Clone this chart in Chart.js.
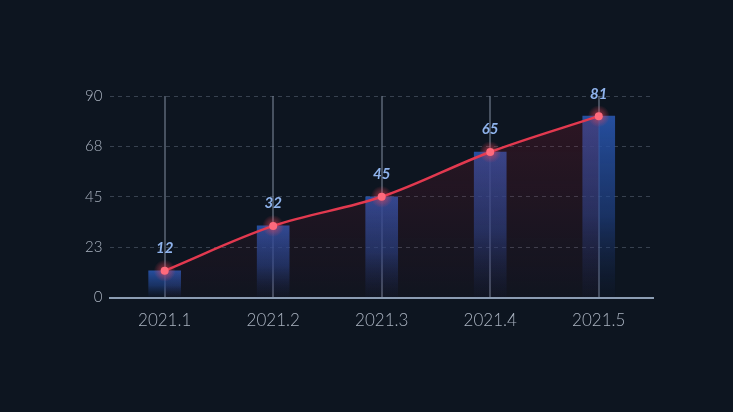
<!DOCTYPE html>
<html>
<head>
<meta charset="utf-8">
<script src="https://cdn.jsdelivr.net/npm/chart.js@4"></script>
<style>
  html, body { margin: 0; padding: 0; background: #0d1520; }
  #wrap { width: 733px; height: 412px; }
</style>
</head>
<body>
<div id="wrap"><canvas id="chart"></canvas></div>
<script>
var labels = ['2021.1', '2021.2', '2021.3', '2021.4', '2021.5'];
var barValues = [12, 32, 45, 65, 81];
var lineValues = [12, 32, 45, 65, 81];
var yTicks = [0, 22.5, 45, 67.5, 90];

// glow behind the line points
var pointGlow = {
  id: 'pointGlow',
  afterDatasetsDraw: function (chart) {
    var ctx = chart.ctx;
    var meta = chart.getDatasetMeta(1);
    meta.data.forEach(function (pt) {
      var g = ctx.createRadialGradient(pt.x, pt.y, 2, pt.x, pt.y, 11);
      g.addColorStop(0, 'rgba(240,70,90,0.55)');
      g.addColorStop(1, 'rgba(240,70,90,0)');
      ctx.save();
      ctx.fillStyle = g;
      ctx.beginPath();
      ctx.arc(pt.x, pt.y, 11, 0, Math.PI * 2);
      ctx.fill();
      ctx.fillStyle = '#ff6a7c';
      ctx.beginPath();
      ctx.arc(pt.x, pt.y, 4, 0, Math.PI * 2);
      ctx.fill();
      ctx.restore();
    });
  }
};

// value labels above the line points
var valueLabels = {
  id: 'valueLabels',
  afterDatasetsDraw: function (chart) {
    var ctx = chart.ctx;
    var meta = chart.getDatasetMeta(1);
    ctx.save();
    ctx.font = 'italic bold 15px Lato, "DejaVu Sans", sans-serif';
    ctx.fillStyle = '#8fb3ec';
    ctx.textAlign = 'center';
    ctx.textBaseline = 'bottom';
    meta.data.forEach(function (pt, i) {
      ctx.fillText(lineValues[i], pt.x, pt.y - 15);
    });
    ctx.restore();
  }
};

var ctx = document.getElementById('chart').getContext('2d');
new Chart(ctx, {
  type: 'bar',
  data: {
    labels: labels,
    datasets: [
      {
        type: 'line',
        label: 'line',
        data: lineValues,
        borderColor: '#e2394f',
        borderWidth: 2.5,
        tension: 0.35,
        pointRadius: 0,
        fill: 'origin',
        backgroundColor: function (c) {
          var area = c.chart.chartArea;
          if (!area) return 'rgba(0,0,0,0)';
          var g = c.chart.ctx.createLinearGradient(0, area.top, 0, area.bottom);
          g.addColorStop(0, 'rgba(150,25,45,0.25)');
          g.addColorStop(1, 'rgba(150,25,45,0.03)');
          return g;
        },
        order: 0
      },
      {
        type: 'line',
        label: 'points',
        data: lineValues,
        showLine: false,
        pointRadius: 0,
        order: 0
      },
      {
        label: 'bar',
        data: barValues,
        barThickness: 32,
        backgroundColor: function (c) {
          var area = c.chart.chartArea;
          if (!area) return 'rgba(0,0,0,0)';
          var top = c.chart.scales.y.getPixelForValue(c.raw);
          var g = c.chart.ctx.createLinearGradient(0, top, 0, area.bottom);
          g.addColorStop(0, 'rgba(40,84,170,0.92)');
          g.addColorStop(0.55, 'rgba(34,70,145,0.6)');
          g.addColorStop(1, 'rgba(25,45,95,0.05)');
          return g;
        },
        order: 1
      }
    ]
  },
  options: {
    responsive: true,
    maintainAspectRatio: false,
    animation: false,
    layout: { padding: { left: 77, right: 80, top: 96, bottom: 68 } },
    plugins: {
      legend: { display: false },
      tooltip: { enabled: false }
    },
    scales: {
      x: {
        offset: true,
        grid: {
          offset: false,
          color: 'rgba(120,132,150,0.55)',
          lineWidth: 2,
          tickLength: 0
        },
        border: { display: true, color: '#8c9db3', width: 2 },
        ticks: {
          color: '#aab3c0',
          padding: 13,
          font: { family: 'Lato, "DejaVu Sans", sans-serif', size: 17, weight: '300' }
        }
      },
      y: {
        min: 0,
        max: 90,
        afterBuildTicks: function (axis) {
          axis.ticks = yTicks.map(function (v) { return { value: v }; });
        },
        grid: {
          color: 'rgba(120,132,150,0.4)',
          lineWidth: 1,
          drawTicks: false
        },
        border: { display: false, dash: [4, 4] },
        ticks: {
          color: '#aab3c0',
          padding: 8,
          callback: function (v) { return Math.round(v); },
          font: { family: 'Lato, "DejaVu Sans", sans-serif', size: 15, weight: '300' }
        }
      }
    }
  },
  plugins: [pointGlow, valueLabels]
});
</script>
</body>
</html>
